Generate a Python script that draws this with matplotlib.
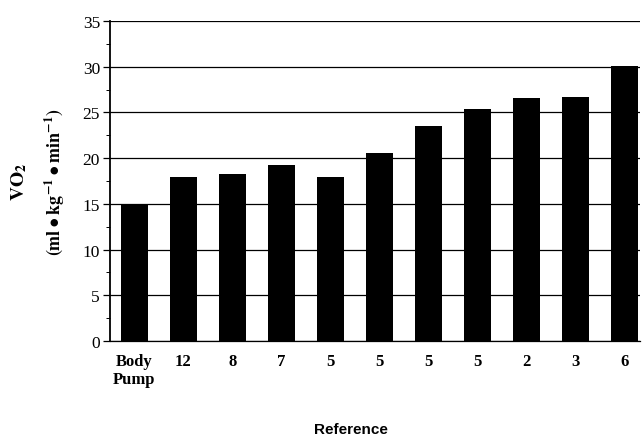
import matplotlib
matplotlib.use("Agg")
import matplotlib.pyplot as plt
from matplotlib.ticker import MultipleLocator

categories = ["Body\nPump", "12", "8", "7", "5", "5", "5", "5", "2", "3", "6"]
vo2 = [15.0, 17.9, 18.3, 19.2, 17.9, 20.6, 23.5, 25.4, 26.6, 26.7, 30.1]

plt.rcParams['mathtext.fontset'] = 'stix'
serif = 'Liberation Serif'

fig = plt.figure(figsize=(6.42, 4.39), dpi=100)
ax = fig.add_axes([0.171, 0.221, 0.826, 0.729])

x = list(range(len(categories)))
ax.bar(x, vo2, width=0.54, color='black', zorder=3)

ax.set_ylim(0, 35)
ax.set_xlim(-0.5, 10.32)
ax.yaxis.set_major_locator(MultipleLocator(5))
ax.yaxis.set_minor_locator(MultipleLocator(2.5))
ax.grid(axis='y', color='black', linewidth=0.9, zorder=0)
ax.set_axisbelow(True)

for s in ['top', 'right']:
    ax.spines[s].set_visible(False)
ax.spines['left'].set_linewidth(1.3)
ax.spines['bottom'].set_linewidth(0.9)

ax.set_xticks(x)
ax.set_xticklabels(categories, fontfamily=serif, fontweight='bold', fontsize=12,
                   linespacing=1.1)
for lbl in ax.get_xticklabels():
    lbl.set_verticalalignment('top')
ax.tick_params(axis='x', length=0, pad=9)
ax.tick_params(axis='y', which='major', length=5, width=0.9, direction='out', labelsize=12.5, pad=2)
ax.tick_params(axis='y', which='minor', length=3, width=0.7, direction='out')
for lbl in ax.get_yticklabels():
    lbl.set_fontfamily(serif)

fig.text(0.030, 0.585, r'$\mathbf{VO_2}$', rotation=90, ha='center', va='center', fontsize=14)
fig.text(0.086, 0.585, r'$\mathbf{(ml\bullet kg^{-1}\bullet min^{-1})}$', rotation=90,
         ha='center', va='center', fontsize=13)

fig.text(351/642, 1 - 430/439, 'Reference', ha='center', va='center',
         fontfamily='Liberation Sans', fontweight='bold', fontsize=11)

fig.savefig('out.png', dpi=100)
